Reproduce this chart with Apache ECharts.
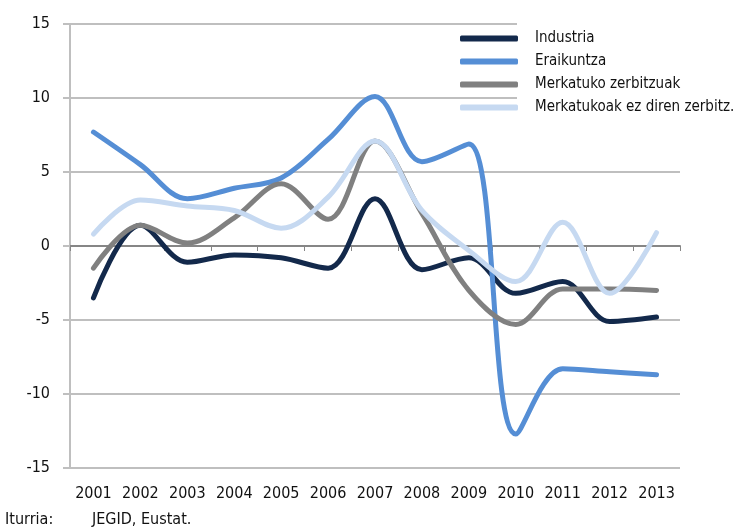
<!DOCTYPE html>
<html>
<head>
<meta charset="utf-8">
<script src="https://cdn.jsdelivr.net/npm/echarts@6/dist/echarts.min.js"></script>
<style>
	html, body { margin: 0; padding: 0; background: #fff; }
	#chart { width: 737px; height: 532px; }
</style>
</head>
<body>
<div id="chart"></div>
<script>
// urteak
var years = ['2001', '2002', '2003', '2004', '2005', '2006', '2007', '2008', '2009', '2010', '2011', '2012', '2013']
// serieak
var industria = [-3.5, 1.4, -1.1, -0.6, -0.8, -1.5, 3.2, -1.6, -0.8, -3.2, -2.4, -5.1, -4.8]
var eraikuntza = [7.7, 5.5, 3.2, 3.9, 4.6, 7.2, 10.1, 5.7, 6.9, -12.7, -8.3, -8.5, -8.7]
var merkatuko = [-1.5, 1.4, 0.2, 1.9, 4.2, 1.8, 7.1, 2.2, -3.0, -5.3, -2.9, -2.9, -3.0]
var ezMerkatuko = [0.8, 3.1, 2.7, 2.4, 1.2, 3.3, 7.1, 2.4, -0.3, -2.4, 1.6, -3.2, 0.9]
var yTicks = [-15, -10, -5, 0, 5, 10, 15]

var fontName = "'DejaVu Sans Condensed', 'Liberation Sans Narrow', sans-serif"

function makeSeries(name, data, color) {
	return {
		name: name,
		type: 'line',
		data: data,
		smooth: 0.35,
		showSymbol: false,
		symbol: 'none',
		lineStyle: { width: 5, color: color, cap: 'round' },
		itemStyle: { color: color }
	}
}

var myChart = echarts.init(document.getElementById('chart'))
myChart.setOption({
	animation: false,
	textStyle: { fontFamily: fontName },
	grid: { left: 70, right: 57, top: 24, bottom: 64 },
	legend: {
		orient: 'vertical',
		left: 455,
		top: 26,
		itemWidth: 58,
		itemHeight: 6,
		itemGap: 8,
		icon: 'roundRect',
		z: 10,
		textStyle: { fontSize: 15, color: '#111', fontFamily: fontName, padding: [0, 0, 0, 12] }
	},
	graphic: [
		{ type: 'rect', left: 517, top: 18, shape: { width: 220, height: 108 }, style: { fill: '#fff' }, z: 1 },
		{ type: 'text', left: 5, top: 512, style: { text: 'Iturria:', font: '16px ' + fontName, fill: '#111' } },
		{ type: 'text', left: 92, top: 512, style: { text: 'JEGID, Eustat.', font: '16px ' + fontName, fill: '#111' } }
	],
	xAxis: [
		{
			type: 'category',
			data: years,
			position: 'bottom',
			axisLine: { show: false, onZero: false },
			axisTick: { show: false },
			axisLabel: { fontSize: 16, color: '#111', margin: 18, interval: 0 }
		},
		{
			type: 'category',
			data: years,
			position: 'bottom',
			axisLine: { show: true, onZero: true, lineStyle: { color: '#868686', width: 2 } },
			axisTick: { show: true, length: 5, interval: 0, lineStyle: { color: '#868686', width: 1 } },
			axisLabel: { show: false }
		}
	],
	yAxis: {
		type: 'value',
		min: -15,
		max: 15,
		interval: 5,
		axisLine: { show: true, lineStyle: { color: '#bfbfbf', width: 2 } },
		axisTick: { show: true, length: 7, lineStyle: { color: '#bfbfbf', width: 2 } },
		splitLine: { show: true, lineStyle: { color: '#bfbfbf', width: 2 } },
		axisLabel: {
			fontSize: 16,
			color: '#111',
			margin: 20,
			formatter: function (v) { return yTicks.indexOf(v) >= 0 ? String(v) : '' }
		}
	},
	series: [
		makeSeries('Industria', industria, '#13294b'),
		makeSeries('Eraikuntza', eraikuntza, '#558ed5'),
		makeSeries('Merkatuko zerbitzuak', merkatuko, '#808080'),
		makeSeries('Merkatukoak ez diren zerbitz.', ezMerkatuko, '#c6d9f1')
	]
})
</script>
</body>
</html>
